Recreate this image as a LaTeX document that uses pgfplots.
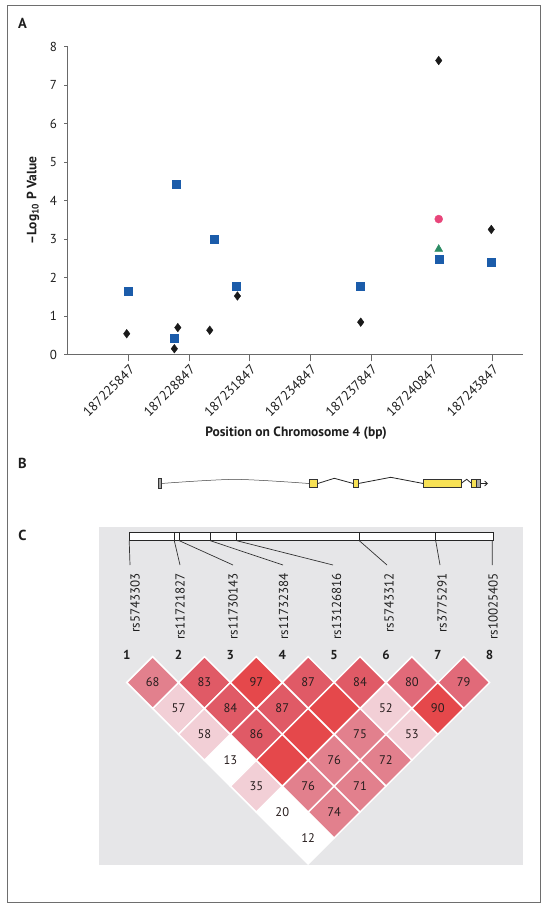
\documentclass[border=0pt]{standalone}
\usepackage{fontspec}
\setmainfont{PT Sans}
\usepackage{pgfplots}
\pgfplotsset{compat=1.18}
\usetikzlibrary{arrows.meta}

\definecolor{axisgray}{RGB}{105,105,105}
\definecolor{framegray}{RGB}{110,110,110}
\definecolor{sqblue}{RGB}{27,92,170}
\definecolor{dmblack}{RGB}{26,26,26}
\definecolor{cirpink}{RGB}{232,69,122}
\definecolor{trigreen}{RGB}{44,140,100}
\definecolor{bgC}{RGB}{230,230,232}
\definecolor{ldbright}{RGB}{229,72,75}
\definecolor{ldred}{RGB}{224,90,102}
\definecolor{ldmed}{RGB}{225,106,121}
\definecolor{ldpink}{RGB}{226,128,141}
\definecolor{ldlight}{RGB}{242,207,214}
\definecolor{celltext}{RGB}{40,30,30}
\definecolor{exonyellow}{RGB}{247,225,85}
\definecolor{genegray}{RGB}{165,165,165}
\definecolor{txt}{RGB}{30,30,30}

\pgfplotsset{
  ldcell/.style={only marks, mark=square*, mark size=18.33pt,
    mark options={rotate=45, draw=white, line width=1.5pt, fill=#1},
    point meta=explicit symbolic, nodes near coords, nodes near coords align=center,
    every node near coord/.append style={font=\fontsize{12.5}{14}\selectfont, text=celltext, inner sep=0pt}},
  ldblank/.style={only marks, mark=square*, mark size=18.33pt,
    mark options={rotate=45, draw=white, line width=1.5pt, fill=#1}},
}

\begin{document}
\begin{tikzpicture}
\useasboundingbox (0pt,0pt) rectangle (549pt,910pt);

% ---------- canvas (pixel coordinates, y downward) ----------
\begin{axis}[at={(274.5pt,455pt)}, anchor=center, scale only axis,
  width=549pt, height=910pt, xmin=0, xmax=549, ymin=0, ymax=910,
  y dir=reverse, hide axis, clip=false]
% frame
\addplot[draw=framegray, line width=1.2pt] coordinates {(7.3,5.7) (540.7,5.7) (540.7,902.3) (7.3,902.3)} -- cycle;
% panel letters
\node[font=\fontsize{14.5}{16}\selectfont\bfseries, text=txt] at (22.5,23) {A};
\node[font=\fontsize{14.5}{16}\selectfont\bfseries, text=txt] at (22.5,463.3) {B};
\node[font=\fontsize{14.5}{16}\selectfont\bfseries, text=txt] at (22.5,535) {C};
% axis titles of panel A
\node[font=\fontsize{13.5}{16}\selectfont\bfseries, text=txt] at (296,433) {Position on Chromosome 4 (bp)};
\node[font=\fontsize{13.5}{16}\selectfont\bfseries, text=txt, rotate=90] at (33,200.5) {–Log\textsubscript{10} P Value};

% ---------- panel B: gene structure ----------
\addplot[draw=black!75, line width=0.5pt, smooth] coordinates {(161.2,483.5) (235,479.4) (309,483.5)};
\addplot[draw=black!85, line width=0.8pt] coordinates {(317.7,483.5) (334.3,478.3) (353.3,483.5)};
\addplot[draw=black!85, line width=0.8pt] coordinates {(358.3,483.5) (390.7,477.3) (423.3,483.5)};
\addplot[draw=black!85, line width=0.8pt] coordinates {(461,483.5) (466.7,479.3) (471.7,483.5)};
\addplot[draw=black!85, line width=0.8pt, -{Straight Barb[length=2.8pt,width=5pt]}] coordinates {(480.7,483.5) (488,483.5)};
\addplot[fill=genegray, draw=black!80, line width=0.6pt] coordinates {(158.3,477.8) (161.2,477.8) (161.2,488.6) (158.3,488.6)} -- cycle;
\addplot[fill=exonyellow, draw=black!80, line width=0.6pt] coordinates {(309,479.7) (317.7,479.7) (317.7,487.3) (309,487.3)} -- cycle;
\addplot[fill=exonyellow, draw=black!80, line width=0.6pt] coordinates {(353.3,479.7) (358.3,479.7) (358.3,487.3) (353.3,487.3)} -- cycle;
\addplot[fill=exonyellow, draw=black!80, line width=0.6pt] coordinates {(423.3,479.7) (461,479.7) (461,487.3) (423.3,487.3)} -- cycle;
\addplot[fill=exonyellow, draw=black!80, line width=0.6pt] coordinates {(471.7,479.7) (476,479.7) (476,487.3) (471.7,487.3)} -- cycle;
\addplot[fill=genegray, draw=black!80, line width=0.6pt] coordinates {(476,479.7) (480.7,479.7) (480.7,487.3) (476,487.3)} -- cycle;

% ---------- panel C: background, SNP bar, connectors, labels ----------
\addplot[fill=bgC, draw=none] coordinates {(99.3,527) (522.5,527) (522.5,865) (99.3,865)} -- cycle;
\addplot[fill=white, draw=black!85, line width=0.8pt] coordinates {(129,532.7) (493,532.7) (493,540.7) (129,540.7)} -- cycle;
\addplot[draw=black!85, line width=0.8pt, unbounded coords=jump] coordinates {
 (174.3,532.7) (174.3,540.7) (nan,nan)
 (179.3,532.7) (179.3,540.7) (nan,nan)
 (210.3,532.7) (210.3,540.7) (nan,nan)
 (236.7,532.7) (236.7,540.7) (nan,nan)
 (359.3,532.7) (359.3,540.7) (nan,nan)
 (435.7,532.7) (435.7,540.7)};
\addplot[draw=black!80, line width=0.7pt, unbounded coords=jump] coordinates {
 (129.2,540.7) (130,565) (nan,nan)
 (174.3,540.7) (180,565) (nan,nan)
 (179.3,540.7) (233,565) (nan,nan)
 (210.3,540.7) (283,565) (nan,nan)
 (236.7,540.7) (333,565) (nan,nan)
 (359.3,540.7) (387,565) (nan,nan)
 (435.7,540.7) (440,565) (nan,nan)
 (492.3,540.7) (492.3,565)};
\foreach \lx/\lab in {135/rs5743303, 180/rs11721827, 233/rs11730143, 283.5/rs11732384, 336.5/rs13126816, 389/rs5743312, 442/rs3775291, 493/rs10025405}{
  \edef\temp{\noexpand\node[rotate=90, anchor=east, inner sep=0pt, font=\noexpand\fontsize{13}{15}\noexpand\selectfont, text=txt] at (\lx,573) {\lab};}
  \temp
}
\foreach \k in {1,...,8}{
  \pgfmathsetmacro{\nx}{126.7+51.85*(\k-1)}
  \edef\temp{\noexpand\node[font=\noexpand\fontsize{13}{15}\noexpand\selectfont\noexpand\bfseries, text=txt] at (\nx,655) {\k};}
  \temp
}
\end{axis}

% ---------- panel C: LD diamonds (x = SNP pair midpoint, y = SNP distance) ----------
\begin{axis}[at={(308.18pt,149.72pt)}, anchor=center, scale only axis,
  width=362.95pt, height=155.55pt, xmin=1, xmax=8, ymin=1, ymax=7,
  y dir=reverse, hide axis, clip=false]
\addplot[ldcell=white] coordinates {(3,4)[13] (4,6)[20] (4.5,7)[12]};
\addplot[ldcell=ldlight] coordinates {(2,2)[57] (2.5,3)[58] (3.5,5)[35] (6,2)[52] (6.5,3)[53]};
\addplot[ldcell=ldpink] coordinates {(1.5,1)[68] (5.5,3)[75] (5,4)[76] (6,4)[72] (4.5,5)[76] (5.5,5)[71] (5,6)[74]};
\addplot[ldcell=ldmed] coordinates {(6.5,1)[80] (7.5,1)[79]};
\addplot[ldcell=ldred] coordinates {(2.5,1)[83] (4.5,1)[87] (5.5,1)[84] (3,2)[84] (4,2)[87] (3.5,3)[86]};
\addplot[ldcell=ldbright] coordinates {(3.5,1)[97] (7,2)[90]};
\addplot[ldblank=ldbright] coordinates {(5,2) (4.5,3) (4,4)};
\end{axis}

% ---------- panel A: association plot ----------
\begin{axis}[at={(295.2pt,709.4pt)}, anchor=center, scale only axis,
  width=455.2pt, height=307.8pt,
  xmin=-3.013, xmax=19.51, ymin=0, ymax=8,
  axis lines=left, axis line style={-, draw=axisgray, line width=1.1pt},
  tick align=outside, major tick length=7pt,
  tick style={draw=axisgray, line width=1pt},
  ytick style={/pgfplots/major tick length=3.6pt},
  xtick={0,3,6,9,12,15,18},
  xticklabels={187225847,187228847,187231847,187234847,187237847,187240847,187243847},
  ytick={0,1,...,8},
  /pgf/number format/assume math mode=true,
  yticklabel style={font=\fontsize{13}{15}\selectfont, text=txt},
  xticklabel shift=5pt,
  xticklabel style={xshift=4.5pt, rotate=45, anchor=east, font=\fontsize{13.5}{15}\selectfont, text=txt, inner sep=1pt},
  clip=false]
\addplot[only marks, mark=diamond*, mark size=4.3pt, mark options={fill=dmblack, draw=dmblack}] coordinates {
 (-0.087,0.54) (2.27,0.15) (2.44,0.70) (4.02,0.63) (5.39,1.52) (11.49,0.84) (15.35,7.64) (17.95,3.25)};
\addplot[only marks, mark=triangle*, mark size=4.5pt, mark options={fill=trigreen, draw=trigreen}] coordinates {(15.35,2.74)};
\addplot[only marks, mark=square*, mark size=4pt, mark options={fill=sqblue, draw=sqblue}] coordinates {
 (-0.017,1.64) (2.25,0.43) (2.36,4.43) (4.24,3.00) (5.35,1.77) (11.45,1.78) (15.35,2.47) (17.93,2.40)};
\addplot[only marks, mark=*, mark size=4pt, mark options={fill=cirpink, draw=cirpink}] coordinates {(15.35,3.52)};
\end{axis}
\end{tikzpicture}
\end{document}
